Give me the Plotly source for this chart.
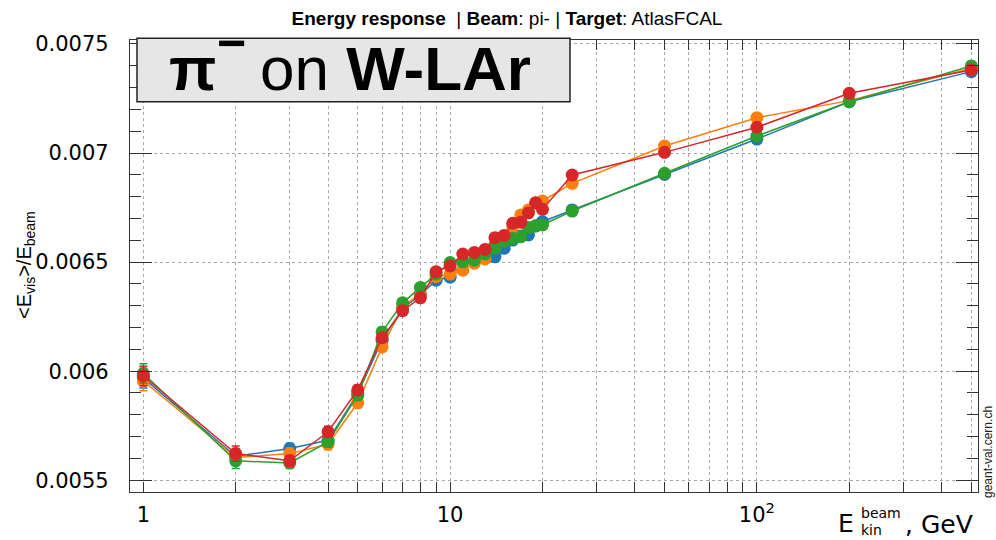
import plotly.graph_objects as go

# Beam kinetic energies (GeV)
energy = [1, 2, 3, 4, 5, 6, 7, 8, 9, 10, 11, 12, 13, 14, 15, 16, 17, 18, 19, 20,
          25, 50, 100, 200, 500]

# Mean visible energy fraction <E_vis>/E_beam for the four physics lists
resp_blue = [0.005968, 0.005610, 0.005645, 0.005683, 0.005898, 0.006142, 0.006288,
             0.006349, 0.006417, 0.006431, 0.006500, 0.006505, 0.006518, 0.006524,
             0.006563, 0.006601, 0.006619, 0.006624, 0.006665, 0.006685, 0.006739,
             0.006902, 0.007064, 0.007235, 0.007373]
resp_orange = [0.005955, 0.005604, 0.005622, 0.005665, 0.005855, 0.006111, 0.006295,
               0.006356, 0.006433, 0.006445, 0.006463, 0.006495, 0.006514, 0.006578,
               0.006610, 0.006661, 0.006716, 0.006739, 0.006771, 0.006780, 0.006861,
               0.007032, 0.007162, 0.007240, 0.007389]
resp_green = [0.005989, 0.005589, 0.005579, 0.005676, 0.005890, 0.006180, 0.006313,
              0.006384, 0.006445, 0.006498, 0.006501, 0.006509, 0.006537, 0.006564,
              0.006596, 0.006608, 0.006616, 0.006658, 0.006667, 0.006670, 0.006734,
              0.006907, 0.007078, 0.007235, 0.007399]
resp_red = [0.005978, 0.005622, 0.005589, 0.005722, 0.005914, 0.006153, 0.006277,
            0.006336, 0.006456, 0.006482, 0.006537, 0.006544, 0.006558, 0.006612,
            0.006622, 0.006678, 0.006683, 0.006725, 0.006772, 0.006742, 0.006899,
            0.007003, 0.007118, 0.007274, 0.007381]

# Statistical uncertainty on the response at each energy
resp_err = [0.000045, 0.000035, 0.000025, 0.000025, 0.000022, 0.000020, 0.000020,
            0.000018, 0.000018, 0.000018, 0.000016, 0.000016, 0.000016, 0.000016,
            0.000016, 0.000016, 0.000016, 0.000016, 0.000016, 0.000016, 0.000016,
            0.000016, 0.000016, 0.000016, 0.000016]

series = [
    ("blue", resp_blue, "#1f77b4"),
    ("orange", resp_orange, "#ff7f0e"),
    ("green", resp_green, "#2ca02c"),
    ("red", resp_red, "#d62728"),
]

# Axis ticks
x_tickvals = [1, 2, 3, 4, 5, 6, 7, 8, 9, 10, 20, 30, 40, 50, 60, 70, 80, 90,
              100, 200, 300, 400, 500]
x_ticklabels = {1: "1", 10: "10", 100: "10<sup>2</sup>"}
y_tickvals = [0.0055, 0.006, 0.0065, 0.007, 0.0075]
y_ticktext = ["0.0055", "0.006", "0.0065", "0.007", "0.0075"]

W, H = 996, 540
L, R, T, B = 130, 18, 40, 48


def px_x(p):
    return (p - L) / (W - L - R)


def px_y(p):
    return (H - B - p) / (H - T - B)


fig = go.Figure()
for name, vals, col in series:
    fig.add_trace(go.Scatter(
        x=energy, y=vals, name=name, mode="lines+markers",
        line=dict(color=col, width=1.5),
        marker=dict(color=col, size=13, symbol="circle"),
        error_y=dict(type="data", array=resp_err, visible=True,
                     color=col, thickness=1.5, width=4),
        showlegend=False,
    ))

axis_font = dict(family="DejaVu Sans", size=21, color="black")

fig.update_xaxes(
    type="log", range=[-0.0435, 2.7207],
    tickmode="array", tickvals=x_tickvals,
    ticktext=[x_ticklabels.get(v, "") for v in x_tickvals],
    ticks="inside", ticklen=10, tickwidth=1, tickcolor="#333",
    showline=True, linecolor="#333", linewidth=1.2, mirror="ticks",
    showgrid=True, gridcolor="#a8a8a8", griddash="dot", gridwidth=1,
    tickfont=axis_font, ticklabelstandoff=4, zeroline=False,
)
fig.update_yaxes(
    range=[0.005446, 0.007518],
    tickmode="array", tickvals=y_tickvals, ticktext=y_ticktext,
    ticks="inside", ticklen=22, tickwidth=1, tickcolor="#333",
    minor=dict(dtick=0.0001, tick0=0.0055, ticks="inside", ticklen=11,
               tickcolor="#333", showgrid=False),
    showline=True, linecolor="#333", linewidth=1.2, mirror="ticks",
    showgrid=True, gridcolor="#a8a8a8", griddash="dot", gridwidth=1,
    tickfont=axis_font, ticklabelstandoff=16, zeroline=False,
)

label_font = dict(family="Liberation Sans", size=62, color="black")

annotations = [
    # y-axis title
    dict(text="&lt;E<sub>vis</sub>&gt;/E<sub>beam</sub>", textangle=-90,
         x=px_x(25), y=px_y(265), xref="paper", yref="paper",
         xanchor="center", yanchor="middle",
         showarrow=False, font=dict(family="Liberation Sans", size=20, color="black")),
    # x-axis title, stacked super/subscript
    dict(text="E", x=px_x(836), y=px_y(523), xref="paper", yref="paper",
         xanchor="left", yanchor="middle", showarrow=False,
         font=dict(family="DejaVu Sans", size=25, color="black")),
    dict(text="beam", x=px_x(859), y=px_y(512.5), xref="paper", yref="paper",
         xanchor="left", yanchor="middle", showarrow=False,
         font=dict(family="DejaVu Sans", size=14, color="black")),
    dict(text="kin", x=px_x(859), y=px_y(530), xref="paper", yref="paper",
         xanchor="left", yanchor="middle", showarrow=False,
         font=dict(family="DejaVu Sans", size=14, color="black")),
    dict(text=", GeV", x=px_x(903), y=px_y(524), xref="paper", yref="paper",
         xanchor="left", yanchor="middle", showarrow=False,
         font=dict(family="DejaVu Sans", size=25, color="black")),
    # site stamp
    dict(text="geant-val.cern.ch", textangle=-90, x=px_x(988), y=px_y(452),
         xref="paper", yref="paper", xanchor="center", yanchor="middle",
         showarrow=False,
         font=dict(family="Liberation Sans", size=12, color="#222")),
    # big label in box: pi with its charge, then the target
    dict(text="<b>π</b>", x=px_x(167), y=px_y(68),
         xref="paper", yref="paper", xanchor="left", yanchor="middle",
         showarrow=False, font=label_font),
    dict(text="<b>−</b>", x=px_x(231), y=px_y(43),
         xref="paper", yref="paper", xanchor="center", yanchor="middle",
         showarrow=False, font=dict(family="Liberation Sans", size=50, color="black")),
    dict(text="on <b>W-LAr</b>", x=px_x(258), y=px_y(68),
         xref="paper", yref="paper", xanchor="left", yanchor="middle",
         showarrow=False, font=label_font),
]

fig.add_shape(type="rect", xref="paper", yref="paper",
              x0=px_x(137), x1=px_x(570), y0=px_y(101.7), y1=px_y(38.3),
              fillcolor="#e6e6e6", line=dict(color="#222", width=1.5), layer="above")

fig.update_layout(
    width=W, height=H,
    margin=dict(l=L, r=R, t=T, b=B),
    paper_bgcolor="white", plot_bgcolor="white",
    title=dict(text="<b>Energy response</b>  | <b>Beam</b>: pi- | <b>Target</b>: AtlasFCAL",
               x=507 / W, xanchor="center", y=1 - 18 / H, yanchor="middle",
               font=dict(family="Liberation Sans", size=19, color="black")),
    annotations=annotations,
)

fig.write_html("out.html")
